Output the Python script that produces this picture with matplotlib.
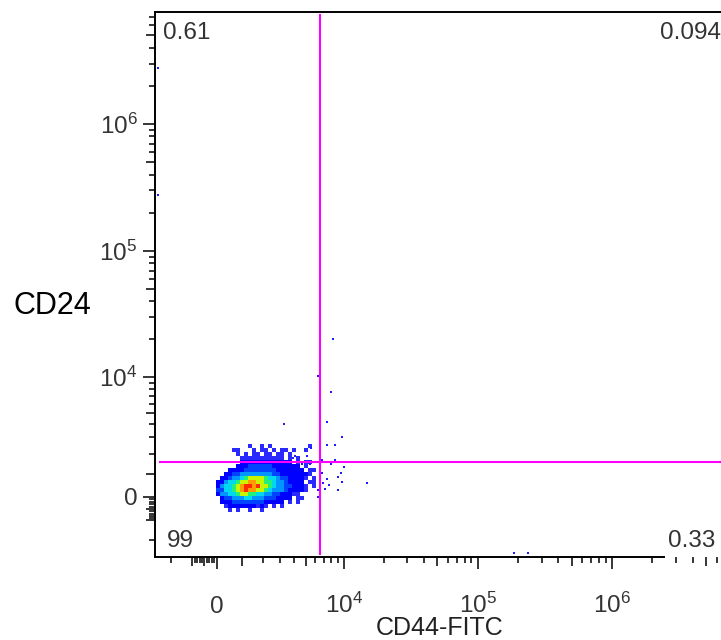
import numpy as np
import matplotlib
matplotlib.use('Agg')
import matplotlib.pyplot as plt
from matplotlib.colors import ListedColormap, BoundaryNorm

plt.rcParams['font.family'] = ['Liberation Sans', 'DejaVu Sans']
plt.rcParams['mathtext.fontset'] = 'custom'
plt.rcParams['mathtext.rm'] = 'Liberation Sans'
plt.rcParams['mathtext.it'] = 'Liberation Sans:italic'
plt.rcParams['mathtext.bf'] = 'Liberation Sans:bold'

LIN_W = 2300  # asinh linear width (logicle-like display)

# quadrant gate and quadrant percentages
gate_x = 6520
gate_y = 1560
quad_labels = ['0.61', '0.094', '99', '0.33']

# main population, read as a density grid (0 = empty ... 9 = densest), top row first
dens_x_range = (-40, 6065)
dens_y_range = (-634, 2570)
density_rows = [
    "        1  1 1         1",
    "    11   1 11 1 11 1  1",
    "     1 1 11 11 11 1",
    "      11111111111 1 1",
    "      2222222222222 1 11",
    "     2223333332222222 1",
    "   2222333333332222222 11",
    "  2233444444443322222221",
    " 2234456777765543322221 1",
    "2245567788776654432222 11",
    "24556789989776544332221 1",
    "33556789887765444322221",
    "244556776655443322211",
    " 233444554443332222 11",
    " 2223333333322222 1 1",
    "  12222222121 1 1",
    "   1 1  1  1",
]

# single events outside the dense core
events_x = [8300, 6250, 7900, 7350, 9700, 7350, 8600, 5500, 4100, 3950, 5100, 6700,
            8600, 4700, 5400, 7950, 10000, 9500, 6700, 9000, 7350, 9700, 6900, 7650,
            14900, 6250, 9000, 7150, 6250, 3250, -2750, -2750, 187000, 236000]
events_y = [20000, 10300, 7550, 4200, 3050, 2500, 2500, 2350, 1870, 1770, 1870, 1650,
            1640, 1450, 1450, 1450, 1330, 1050, 1050, 850, 765, 650, 580, 490,
            580, 290, 290, 320, 10, 4000, 2770000, 276000, -2780, -2780]

x_lim = (-2932, 6.48e6)
y_lim = (-3030, 7.64e6)
major_ticks = [0, 1e4, 1e5, 1e6]
major_labels = ['0', '$10^4$', '$10^5$', '$10^6$']
minor_ticks = ([-2000, -1000] + list(range(-900, 0, 100)) + [1000]
               + [m * 10 ** k for k in (3, 4, 5, 6) for m in range(2, 10)])

dens_colors = ['#2a2aff', '#0000ff', '#0044ff', '#0095ff', '#00d8f0',
               '#22f07a', '#c8f500', '#ff9a00', '#ff2a00']

fig = plt.figure(figsize=(7.21, 6.4), dpi=100)
ax = fig.add_axes([155 / 721, 83 / 640, 566 / 721, 545 / 640])
ax.set_xscale('asinh', linear_width=LIN_W)
ax.set_yscale('asinh', linear_width=LIN_W)

# density grid (cells evenly spaced on the display scale)
rows = [r.ljust(25)[:25] for r in density_rows]
dens = np.array([[int(c) if c.strip() else 0 for c in r] for r in rows[::-1]], dtype=float)
ny, nx = dens.shape
xe = LIN_W * np.sinh(np.linspace(np.arcsinh(dens_x_range[0] / LIN_W),
                                 np.arcsinh(dens_x_range[1] / LIN_W), nx + 1))
ye = LIN_W * np.sinh(np.linspace(np.arcsinh(dens_y_range[0] / LIN_W),
                                 np.arcsinh(dens_y_range[1] / LIN_W), ny + 1))
cmap = ListedColormap(dens_colors)
norm = BoundaryNorm(np.arange(0.5, 10.5, 1), cmap.N)
ax.pcolormesh(xe, ye, np.ma.masked_equal(dens, 0), cmap=cmap, norm=norm,
              shading='flat', zorder=2)

ax.scatter(events_x, events_y, s=3, marker='s', color='#1a1aff', linewidths=0, zorder=2)

# gates
ax.axvline(gate_x, ymin=0.005, ymax=0.995, color='#ff00ff', lw=1.5, zorder=3)
ax.axhline(gate_y, xmin=0.009, xmax=1.0, color='#ff00ff', lw=1.5, zorder=3)

ax.set_xticks(major_ticks, major_labels)
ax.set_yticks(major_ticks, major_labels)
ax.set_xticks(minor_ticks, minor=True)
ax.set_yticks(minor_ticks, minor=True)
# limits after the ticks, set_ticks would widen them
ax.set_xlim(*x_lim)
ax.set_ylim(*y_lim)

ax.tick_params(which='both', direction='out', width=1.1, color='black',
               top=False, right=False, labelsize=17.5, labelcolor='#333333')
ax.tick_params(which='major', length=8.6)
ax.tick_params(which='minor', length=4.3)
ax.tick_params(axis='x', which='major', pad=31.5)
ax.tick_params(axis='y', which='major', pad=4)
plt.setp(ax.get_xticklabels(), va='baseline')

for axis in (ax.xaxis, ax.yaxis):
    for t, v in zip(axis.get_minor_ticks(len(minor_ticks)), minor_ticks):
        if abs(v) == 1000 or str(int(abs(v)))[0] == '5':
            t.tick1line.set_markersize(6.5)

for s in ('left', 'bottom', 'top'):
    ax.spines[s].set_linewidth(1.4)
ax.spines['right'].set_visible(False)
x_end = ax.transData.inverted().transform(ax.transAxes.transform((0.8993, 0)))[0]
ax.spines['bottom'].set_bounds(x_lim[0], x_end)

ax.set_xlabel('CD44-FITC', fontsize=18, color='#222222')
ax.xaxis.set_label_coords(0.5035, -0.131)
ax.xaxis.label.set_va('center')
ax.set_ylabel('CD24', fontsize=22, color='black', rotation=0, ha='center', va='center')
ax.yaxis.set_label_coords(-0.182, 0.461)

ax.text(0.0141, 0.9615, quad_labels[0], transform=ax.transAxes, fontsize=17.5,
        color='#333333', ha='left', va='center')
ax.text(1.0, 0.9615, quad_labels[1], transform=ax.transAxes, fontsize=17.5,
        color='#333333', ha='right', va='center')
ax.text(0.0212, 0.029, quad_labels[2], transform=ax.transAxes, fontsize=17.5,
        color='#333333', ha='left', va='center')
ax.text(0.906, 0.029, quad_labels[3], transform=ax.transAxes, fontsize=17.5,
        color='#333333', ha='left', va='center', clip_on=False)

fig.savefig('out.png', dpi=100)
